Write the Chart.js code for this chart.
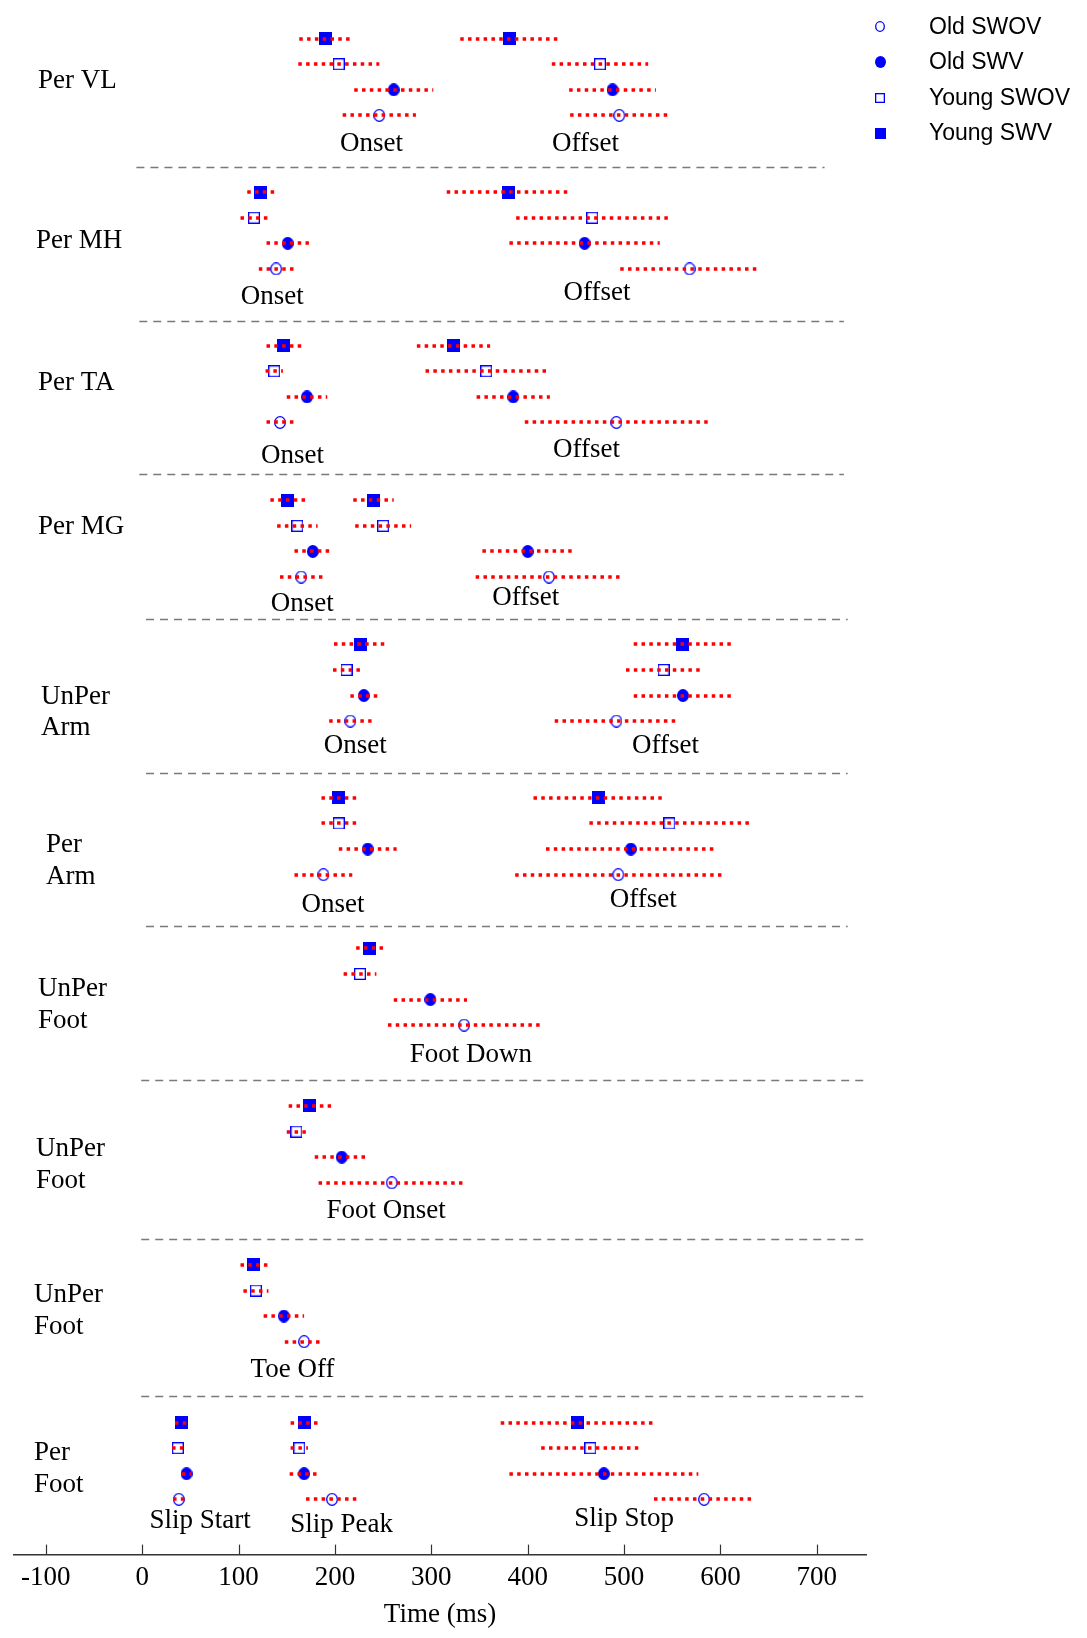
<!DOCTYPE html>
<html lang="en">
<head>
<meta charset="UTF-8">
<title>Event timing - Old / Young, SWV / SWOV</title>
<script src="https://cdn.jsdelivr.net/npm/chart.js@4.4.1/dist/chart.umd.min.js"></script>
<style>
  html,body{margin:0;padding:0;background:#fff}
  #wrap{position:relative;width:1087px;height:1638px}
</style>
</head>
<body>
<div id="wrap"><canvas id="chart"></canvas></div>
<script>
// groups and events, top to bottom
const groupNames = [['Per VL'],['Per MH'],['Per TA'],['Per MG'],['UnPer','Arm'],['Per','Arm'],['UnPer','Foot'],['UnPer','Foot'],['UnPer','Foot'],['Per','Foot']];
const eventNames = ['Onset','Offset','Onset','Offset','Onset','Offset','Onset','Offset','Onset','Offset','Onset','Offset','Foot Down','Foot Onset','Toe Off','Slip Start','Slip Peak','Slip Stop'];
const eventGroup = [0,0,1,1,2,2,3,3,4,4,5,5,6,7,8,9,9,9];

// mean time (ms) and spread, one value per event
const youngSwv     = [190, 381, 123, 380, 147, 323, 151, 240, 226, 561, 204, 473, 236, 174, 116, 41, 168, 452];
const youngSwvSd   = [ 27,  51,  14,  64,  18,  38,  18,  21,  27,  51,  18,  67,  14,  22,  14,  7,  14,  80];
const youngSwov    = [204, 475, 116, 467, 137, 357, 161, 250, 212, 541, 204, 547, 226, 160, 118, 37, 163, 465];
const youngSwovSd  = [ 42,  50,  14,  79,   9,  63,  21,  29,  14,  39,  18,  83,  17,  10,  13,  6,   9,  51];
const oldSwv       = [261, 488, 151, 459, 171, 385, 177, 400, 230, 561, 234, 507, 299, 207, 147, 46, 168, 479];
const oldSwvSd     = [ 41,  45,  22,  78,  21,  38,  19,  47,  14,  51,  30,  88,  38,  28,  21,  5,  15,  98];
const oldSwov      = [246, 495, 139, 568, 143, 492, 165, 422, 216, 492, 188, 494, 334, 259, 168, 38, 197, 583];
const oldSwovSd    = [ 38,  51,  18,  72,  14,  95,  22,  76,  22,  64,  30, 107,  79,  76,  20,  6,  27,  52];

const xTicks = [-100, 0, 100, 200, 300, 400, 500, 600, 700];

// layout (rows on the hidden y axis)
const groupRow = [0, 6, 12, 18.04, 23.67, 29.67, 35.55, 41.71, 47.92, 54.08];
const nameRow = [1.67, 1.92, 1.47, 1.06, 2.04, 1.84, 1.59, 1.67, 1.18, 1.18];
const nameX = [24, 22, 24, 24, 27, 32, 24, 22, 20, 20];
const eventLabelX = [238, 460, 135, 472, 156, 461, 166, 398, 221, 543, 198, 520, 341, 253, 156, 60, 207, 500];
const eventLabelRow = [4.12, 4.12, 10.08, 9.92, 16.29, 16.08, 22.08, 21.84, 27.63, 27.63, 33.84, 33.67, 39.71, 45.8, 52.04, 57.92, 58.08, 57.84];
const sepRow = [5.02, 11.02, 17.02, 22.69, 28.69, 34.69, 40.69, 46.9, 53.06];
const sepFrom = [-6, -3, -3, 4, 4, 4, -1, -1, -1];
const sepTo = [708, 728, 728, 732, 732, 732, 751, 751, 751];

const SERIF = '"Liberation Serif", "Times New Roman", serif';
const SANS = '"Liberation Sans", Arial, sans-serif';
const BLUE = '#0000ff';

function marker(kind, w, h) {
  const c = document.createElement('canvas');
  c.width = w; c.height = h;
  const g = c.getContext('2d');
  g.fillStyle = BLUE; g.strokeStyle = BLUE; g.lineWidth = 1.3;
  if (kind === 'sq') g.fillRect(0, 0, w, h);
  if (kind === 'osq') g.strokeRect(0.65, 0.65, w - 1.3, h - 1.3);
  if (kind === 'dot') { g.beginPath(); g.ellipse(w/2, h/2, w/2, h/2, 0, 0, 2*Math.PI); g.fill(); }
  if (kind === 'ring') { g.beginPath(); g.ellipse(w/2, h/2, w/2 - 0.7, h/2 - 0.7, 0, 0, 2*Math.PI); g.stroke(); }
  return c;
}

const series = [
  {label: 'Young SWV',  vals: youngSwv,  sd: youngSwvSd,  row: 0, img: marker('sq', 13, 13),   key: marker('sq', 11, 11)},
  {label: 'Young SWOV', vals: youngSwov, sd: youngSwovSd, row: 1, img: marker('osq', 12, 12),  key: marker('osq', 10, 10)},
  {label: 'Old SWV',    vals: oldSwv,    sd: oldSwvSd,    row: 2, img: marker('dot', 12, 13),  key: marker('dot', 11, 12)},
  {label: 'Old SWOV',   vals: oldSwov,   sd: oldSwovSd,   row: 3, img: marker('ring', 12, 13), key: marker('ring', 10, 11)}
];

const datasets = series.map(s => ({
  label: s.label,
  data: s.vals.map((v, e) => ({x: v, y: groupRow[eventGroup[e]] + s.row})),
  errs: s.sd,
  pointStyle: s.img,
  pointRadius: 6,
  showLine: false
}));

// separators, group names, event names
const annotations = {
  id: 'annotations',
  beforeDatasetsDraw(chart) {
    const {ctx, chartArea} = chart;
    const xs = chart.scales.x, ys = chart.scales.y;
    ctx.save();
    ctx.strokeStyle = '#7a7a7a';
    ctx.lineWidth = 1.5;
    ctx.setLineDash([8, 6]);
    sepRow.forEach((r, i) => {
      const y = Math.round(ys.getPixelForValue(r)) + 0.5;
      ctx.beginPath();
      ctx.moveTo(xs.getPixelForValue(sepFrom[i]), y);
      ctx.lineTo(Math.min(xs.getPixelForValue(sepTo[i]), chartArea.right), y);
      ctx.stroke();
    });
    ctx.setLineDash([]);
    ctx.fillStyle = '#000';
    ctx.font = '27px ' + SERIF;
    ctx.textBaseline = 'middle';
    ctx.textAlign = 'left';
    groupNames.forEach((lines, g) => {
      lines.forEach((t, k) => {
        ctx.fillText(t, chartArea.left + nameX[g], ys.getPixelForValue(groupRow[g] + nameRow[g] + k * 1.24));
      });
    });
    ctx.textAlign = 'center';
    eventNames.forEach((t, e) => {
      ctx.fillText(t, xs.getPixelForValue(eventLabelX[e]), ys.getPixelForValue(eventLabelRow[e]));
    });
    ctx.restore();
  }
};

// dotted red spread bars over the markers
const spreadBars = {
  id: 'spreadBars',
  afterDatasetsDraw(chart) {
    const {ctx} = chart;
    const xs = chart.scales.x, ys = chart.scales.y;
    ctx.save();
    ctx.strokeStyle = '#ff0000';
    ctx.lineWidth = 3.5;
    ctx.setLineDash([3.5, 4.3]);
    chart.data.datasets.forEach(ds => {
      ds.data.forEach((p, i) => {
        const y = Math.round(ys.getPixelForValue(p.y));
        ctx.beginPath();
        ctx.moveTo(xs.getPixelForValue(p.x - ds.errs[i]), y);
        ctx.lineTo(xs.getPixelForValue(p.x + ds.errs[i]), y);
        ctx.stroke();
      });
    });
    ctx.restore();
  }
};

// inward tick marks and the legend at top right
const frame = {
  id: 'frame',
  afterDraw(chart) {
    const {ctx, chartArea} = chart;
    const xs = chart.scales.x;
    ctx.save();
    ctx.strokeStyle = '#333';
    ctx.lineWidth = 1.2;
    xTicks.forEach(v => {
      const x = Math.round(xs.getPixelForValue(v)) + 0.5;
      ctx.beginPath();
      ctx.moveTo(x, chartArea.bottom);
      ctx.lineTo(x, chartArea.bottom - 10);
      ctx.stroke();
    });
    ctx.font = '23px ' + SANS;
    ctx.fillStyle = '#000';
    ctx.textBaseline = 'middle';
    ctx.textAlign = 'left';
    series.slice().reverse().forEach((s, i) => {
      const y = 26.5 + i * 35.5;
      ctx.drawImage(s.key, Math.round(880 - s.key.width / 2), Math.round(y - s.key.height / 2));
      ctx.fillText(s.label, 929, y + 1);
    });
    ctx.restore();
  }
};

new Chart(document.getElementById('chart'), {
  type: 'scatter',
  data: {datasets},
  options: {
    responsive: true,
    maintainAspectRatio: false,
    animation: false,
    layout: {autoPadding: false, padding: {left: 14, right: 221, top: 0, bottom: 4}},
    plugins: {legend: {display: false}, tooltip: {enabled: false}},
    scales: {
      x: {
        type: 'linear',
        min: -133,
        max: 751,
        afterBuildTicks: s => { s.ticks = xTicks.map(v => ({value: v})); },
        grid: {display: false, drawTicks: false},
        border: {display: true, color: '#333', width: 1.5},
        ticks: {color: '#000', padding: 8, font: {family: SERIF, size: 27, lineHeight: 1.1}},
        title: {display: true, text: 'Time (ms)', color: '#000', padding: {top: 0, bottom: 4}, font: {family: SERIF, size: 27, lineHeight: 1.1}}
      },
      y: {
        type: 'linear',
        display: false,
        reverse: true,
        min: -1.509,
        max: 59.24
      }
    }
  },
  plugins: [annotations, spreadBars, frame]
});
</script>
</body>
</html>
